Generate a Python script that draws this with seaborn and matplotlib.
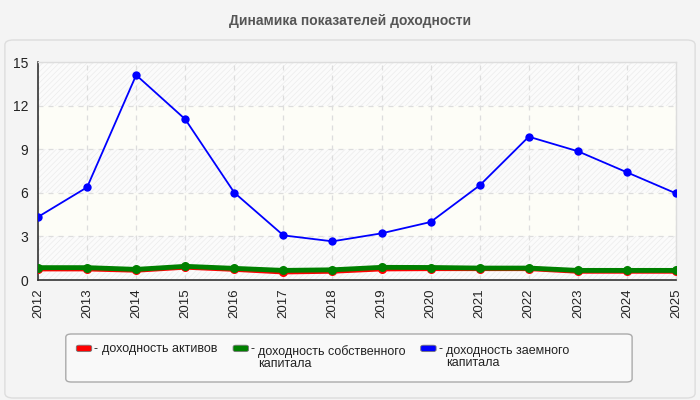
import matplotlib
matplotlib.use("Agg")
import matplotlib.pyplot as plt
import seaborn as sns
import pandas as pd
from matplotlib.patches import FancyBboxPatch

years = [2012, 2013, 2014, 2015, 2016, 2017, 2018, 2019, 2020, 2021, 2022, 2023, 2024, 2025]
roa = [0.76, 0.76, 0.67, 0.88, 0.73, 0.55, 0.6, 0.76, 0.78, 0.78, 0.78, 0.6, 0.6, 0.6]
roe = [0.85, 0.85, 0.73, 0.94, 0.8, 0.66, 0.7, 0.87, 0.86, 0.82, 0.82, 0.66, 0.66, 0.66]
rod = [4.34, 6.38, 14.1, 11.06, 6.01, 3.07, 2.66, 3.21, 3.99, 6.51, 9.86, 8.86, 7.41, 5.96]

labels = ["доходность активов",
          "доходность собственного\nкапитала",
          "доходность заемного\nкапитала"]
colors = ["#ff0000", "#008000", "#0000ff"]
title = "Динамика показателей доходности"
yticks = [0, 3, 6, 9, 12, 15]

sns.set_style("white")
plt.rcParams['font.family'] = ['Liberation Sans', 'DejaVu Sans']
plt.rcParams['hatch.linewidth'] = 0.5
plt.rcParams['hatch.color'] = '#ececec'

df = pd.DataFrame({"year": years, "roa": roa, "roe": roe, "rod": rod})

fig = plt.figure(figsize=(7, 4), dpi=100)
fig.patch.set_facecolor('#f4f4f4')

# outer panel
panel = FancyBboxPatch((0.007, 0.005), 0.986, 0.895, boxstyle="round,pad=0,rounding_size=0.012",
                       transform=fig.transFigure, facecolor='#f4f4f4', edgecolor='#dddddd',
                       linewidth=1, zorder=-5)
fig.patches.append(panel)

fig.text(0.5, 0.948, title, ha='center', va='center', fontsize=10, fontweight='bold', color='#555555')

ax = fig.add_axes([0.0543, 0.3, 0.9114, 0.545])
ax.set_zorder(2)
ax.set_facecolor('#ffffff')

# banded / hatched background
for i in range(5):
    lo, hi = yticks[i], yticks[i + 1]
    if i % 2 == 0:
        ax.axhspan(lo, hi, facecolor='#fbfbfb', hatch='//////', edgecolor='#ececec', linewidth=0, zorder=0)
    else:
        ax.axhspan(lo, hi, facecolor='#fdfdf7', linewidth=0, zorder=0)

sns.lineplot(data=df, x="year", y="roa", ax=ax, color=colors[0], linewidth=3.5,
             marker='o', markersize=6.5, markeredgewidth=0, zorder=3)
sns.lineplot(data=df, x="year", y="roe", ax=ax, color=colors[1], linewidth=3.5,
             marker='o', markersize=6.5, markeredgewidth=0, zorder=4)
sns.lineplot(data=df, x="year", y="rod", ax=ax, color=colors[2], linewidth=1.3,
             marker='o', markersize=6, markeredgewidth=0, zorder=5)

ax.set_xlim(years[0], years[-1])
ax.set_ylim(0, 15)
ax.set_xticks(years)
ax.set_xticklabels([str(y) for y in years], rotation=90, fontsize=9.5, color='#222222')
ax.set_yticks(yticks)
ax.set_yticklabels([str(t) for t in yticks], fontsize=10, color='#222222')
ax.set_xlabel("")
ax.set_ylabel("")
ax.grid(True, color='#dddddd', linestyle=(0, (4, 4)), linewidth=0.9, zorder=1)
ax.set_axisbelow(True)
ax.tick_params(axis='both', length=5, width=1, color='#333333', direction='out', pad=2)
ax.tick_params(axis='x', pad=1)
for side in ['left', 'bottom']:
    ax.spines[side].set_color('#333333')
    ax.spines[side].set_linewidth(1.2)
for side in ['top', 'right']:
    ax.spines[side].set_color('#dddddd')
    ax.spines[side].set_linewidth(1)

# legend box
lbox = FancyBboxPatch((0.094, 0.045), 0.809, 0.12, boxstyle="round,pad=0,rounding_size=0.008",
                      transform=fig.transFigure, facecolor='#f9f9f9', edgecolor='#aaaaaa',
                      linewidth=1, zorder=1)
fig.patches.append(lbox)
lx = [0.109, 0.333, 0.601]
for x, c, lab in zip(lx, colors, labels):
    sw = FancyBboxPatch((x, 0.121), 0.022, 0.016, boxstyle="round,pad=0,rounding_size=0.004",
                        transform=fig.transFigure, facecolor=c, edgecolor='#777777',
                        linewidth=0.6, zorder=2)
    fig.patches.append(sw)
    fig.text(x + 0.025, 0.143, "-", ha='left', va='top', fontsize=9, color='#222222')
    fig.text(x + 0.036, 0.143 if x == lx[0] else 0.138, lab, ha='left', va='top', fontsize=9,
             color='#222222', linespacing=1.0)

fig.savefig("out.png", dpi=100, facecolor=fig.get_facecolor())
